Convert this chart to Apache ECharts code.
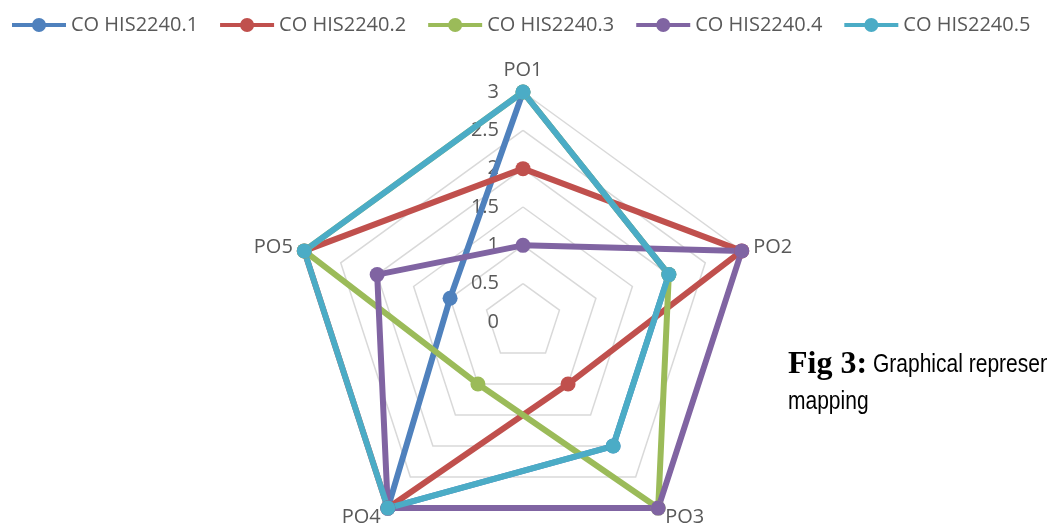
<!DOCTYPE html>
<html>
<head>
<meta charset="utf-8">
<script src="https://cdn.jsdelivr.net/npm/echarts@6/dist/echarts.min.js"></script>
<style>
html,body{margin:0;padding:0;background:#fff;}
#chart{width:1047px;height:527px;}
</style>
</head>
<body>
<div id="chart"></div>
<script>
// ---- data ----
const indicators = ['PO1', 'PO2', 'PO3', 'PO4', 'PO5'];
const seriesNames = ['CO HIS2240.1', 'CO HIS2240.2', 'CO HIS2240.3', 'CO HIS2240.4', 'CO HIS2240.5'];
const co1 = [3, 2, 2, 3, 1];
const co2 = [2, 3, 1, 3, 3];
const co3 = [3, 2, 3, 1, 3];
const co4 = [1, 3, 3, 3, 2];
const co5 = [3, 2, 2, 3, 3];
const axisMin = 0, axisMax = 3, axisSplits = 6;
const captionBold = 'Fig 3:';
const captionText = 'Graphical represen';
const captionLine2 = 'mapping';

// ---- styles ----
const colors = ['#4F81BD', '#C0504D', '#9BBB59', '#8064A2', '#4BACC6'];
const FONT = '"Open Sans", "Liberation Sans", sans-serif';
const TXT = '#595959';
const legendIcon = 'path://M0,5.5 H21 V9.5 H0 Z M33,5.5 H54 V9.5 H33 Z M20,7.5 A7,7 0 1 1 34,7.5 A7,7 0 1 1 20,7.5 Z';

// ECharts lays radar indicators counter-clockwise; reorder so PO1..PO5 run clockwise.
const order = [0, 4, 3, 2, 1];
const values = [co1, co2, co3, co4, co5];
const chart = echarts.init(document.getElementById('chart'), null, {renderer: 'canvas'});
chart.setOption({
  backgroundColor: '#ffffff',
  animation: false,
  color: colors,
  legend: {
    left: 7, top: 10,
    itemWidth: 54, itemHeight: 14, itemGap: 22,
    icon: legendIcon,
    textStyle: {color: TXT, fontSize: 20, fontFamily: FONT},
    data: seriesNames
  },
  radar: {
    center: [523, 322],
    radius: 230,
    startAngle: 90,
    shape: 'polygon',
    splitNumber: axisSplits,
    nameGap: 12,
    axisName: {color: TXT, fontSize: 20, fontFamily: FONT},
    axisLine: {show: false},
    axisTick: {show: false},
    splitArea: {show: false},
    splitLine: {lineStyle: {color: '#D9D9D9', width: 1.5}},
    axisLabel: {show: false},
    indicator: order.map((k, i) => {
      const o = {name: indicators[k], min: axisMin, max: axisMax};
      if (i === 0) o.axisLabel = {show: true, color: TXT, fontSize: 20, fontFamily: FONT, margin: 24, showMinLabel: true, showMaxLabel: true};
      return o;
    })
  },
  series: [{
    type: 'radar',
    symbol: 'circle',
    symbolSize: 15,
    emphasis: {disabled: true},
    data: values.map((v, i) => ({
      name: seriesNames[i],
      value: order.map(k => v[k]),
      lineStyle: {color: colors[i], width: 6},
      itemStyle: {color: colors[i]}
    }))
  }],
  graphic: [
    {type: 'text', x: 788, y: 365, style: {text: captionBold, font: 'bold 32px "Liberation Serif", serif', fill: '#000', verticalAlign: 'middle', align: 'left'}},
    {type: 'text', x: 873, y: 365, scaleX: 0.84, style: {text: captionText, font: '25px "Liberation Sans", sans-serif', fill: '#000', verticalAlign: 'middle', align: 'left'}},
    {type: 'text', x: 788, y: 402, scaleX: 0.84, style: {text: captionLine2, font: '25px "Liberation Sans", sans-serif', fill: '#000', verticalAlign: 'middle', align: 'left'}}
  ]
});
</script>
</body>
</html>
